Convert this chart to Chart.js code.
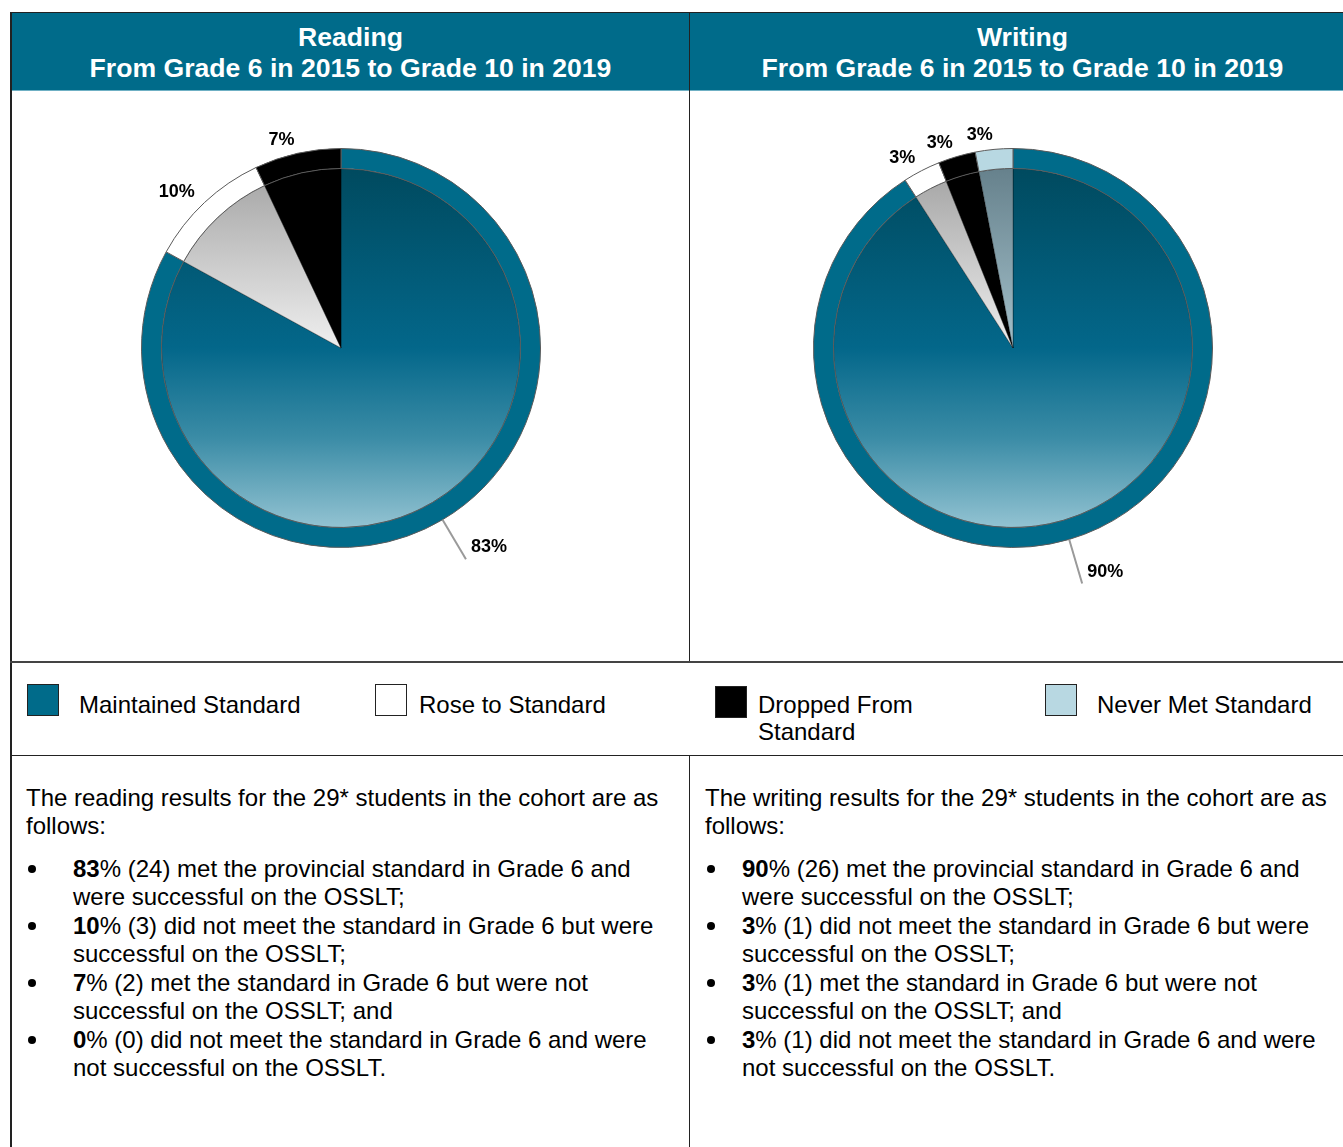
<!DOCTYPE html>
<html>
<head>
<meta charset="utf-8">
<script src="https://cdn.jsdelivr.net/npm/chart.js@4"></script>
<style>
  body { margin: 0; background: #fff; font-family: "Liberation Sans", Arial, sans-serif; color: #000; }
  #page { position: relative; width: 1343px; height: 1147px; overflow: hidden; }
  .line { position: absolute; background: #222; }
  .header { position: absolute; top: 13px; height: 78px; background: #006b8a; color: #fff;
            font-weight: bold; font-size: 26.6px; line-height: 31px; text-align: center;
            padding-top: 9px; box-sizing: border-box; border-bottom: 1px solid #6fb0c4; }
  canvas { position: absolute; }
  .swatch { position: absolute; width: 30px; height: 30px; border: 1.5px solid #222; }
  .legtext { position: absolute; font-size: 24px; line-height: 27px; }
  .para { position: absolute; font-size: 24px; line-height: 28px; }
  ul { position: absolute; margin: 0; padding: 0; list-style: none; font-size: 24px; line-height: 28px; }
  li { position: relative; margin-bottom: 1px; }
  li .dot { position: absolute; top: 10px; width: 8px; height: 8px; border-radius: 50%; background: #000; }
</style>
</head>
<body>
<div id="page"></div>
<script>
// categories and values
const categories = ['Maintained Standard', 'Rose to Standard', 'Dropped From Standard', 'Never Met Standard'];
const readingPercents = [83, 10, 7, 0];
const writingPercents = [90, 3, 3, 3];
const readingStudents = [24, 3, 2, 0];
const writingStudents = [26, 1, 1, 1];
const cohort = 29;
const subjects = ['Reading', 'Writing'];
const subtitle = 'From Grade 6 in 2015 to Grade 10 in 2019';
const outcomes = [
  'met the provincial standard in Grade 6 and were successful on the OSSLT;',
  'did not meet the standard in Grade 6 but were successful on the OSSLT;',
  'met the standard in Grade 6 but were not successful on the OSSLT; and',
  'did not meet the standard in Grade 6 and were not successful on the OSSLT.'
];

// colours
const ringColors = ['#006b8a', '#ffffff', '#000000', '#b8d8e2'];
const innerStops = [
  [[0, '#004a5f'], [0.5, '#03678a'], [0.75, '#3b8ca6'], [1, '#93c3d2']],
  [[0, '#a3a3a3'], [0.5, '#efefef'], [1, '#ffffff']],
  [[0, '#000000'], [1, '#000000']],
  [[0, '#66818c'], [0.5, '#a3c0ca'], [1, '#cfe5ec']]
];

const page = document.getElementById('page');
function add(tag, cls, css, html) {
  const el = document.createElement(tag);
  if (cls) el.className = cls;
  Object.assign(el.style, css);
  if (html !== undefined) el.innerHTML = html;
  page.appendChild(el);
  return el;
}

// frame lines
add('div', 'line', { left: '10px', top: '12px', width: '2px', height: '1135px' });
add('div', 'line', { left: '10px', top: '12px', width: '1333px', height: '1px' });
add('div', 'line', { left: '689px', top: '12px', width: '1px', height: '649px' });
add('div', 'line', { left: '10px', top: '661px', width: '1333px', height: '2px', background: '#444' });
add('div', 'line', { left: '10px', top: '755px', width: '1333px', height: '1px' });
add('div', 'line', { left: '689px', top: '755px', width: '1px', height: '392px' });

// headers
add('div', 'header', { left: '12px', width: '677px' }, subjects[0] + '<br>' + subtitle);
add('div', 'header', { left: '690px', width: '665px' }, subjects[1] + '<br>' + subtitle);

// legend (html, shared by both pies)
const legendPos = [[27, 79], [375, 419], [715, 758], [1045, 1097]];
categories.forEach((c, i) => {
  add('div', 'swatch', { left: legendPos[i][0] + 'px', top: (i === 2 ? 686 : 684) + 'px', background: ringColors[i] });
  const txt = i === 2 ? 'Dropped From<br>Standard' : c;
  add('div', 'legtext', { left: legendPos[i][1] + 'px', top: '691px' }, txt);
});

// text blocks
function textBlock(left, textLeft, dotLeft, subject, pcts, counts) {
  add('div', 'para', { left: left + 'px', top: '784px', width: '650px' },
    'The ' + subject.toLowerCase() + ' results for the ' + cohort + '* students in the cohort are as follows:');
  const ul = add('ul', null, { left: textLeft + 'px', top: '855px', width: '596px' });
  outcomes.forEach((o, i) => {
    const li = document.createElement('li');
    li.innerHTML = '<span class="dot" style="left:' + (dotLeft - textLeft) + 'px"></span><b>' +
      pcts[i] + '</b>% (' + counts[i] + ') ' + o;
    ul.appendChild(li);
  });
}
textBlock(26, 73, 28, subjects[0], readingPercents, readingStudents);
textBlock(705, 742, 707, subjects[1], writingPercents, writingStudents);

// percentage labels around the pie
const pctLabels = {
  id: 'pctLabels',
  afterDatasetsDraw(chart) {
    const ctx = chart.ctx;
    const vals = chart.data.datasets[0].data;
    const meta = chart.getDatasetMeta(0);
    ctx.save();
    ctx.font = 'bold 18px "Liberation Sans", Arial, sans-serif';
    ctx.fillStyle = '#000';
    meta.data.forEach((arc, i) => {
      if (!vals[i]) return;
      const p = arc.getProps(['x', 'y', 'startAngle', 'endAngle', 'outerRadius'], true);
      const mid = (p.startAngle + p.endAngle) / 2;
      const cos = Math.cos(mid), sin = Math.sin(mid);
      const label = vals[i] + '%';
      if (cos > 0) {
        const x1 = p.x + cos * p.outerRadius, y1 = p.y + sin * p.outerRadius;
        const x2 = p.x + cos * (p.outerRadius + 46), y2 = p.y + sin * (p.outerRadius + 46);
        ctx.strokeStyle = '#9a9a9a';
        ctx.lineWidth = 2;
        ctx.beginPath(); ctx.moveTo(x1, y1); ctx.lineTo(x2, y2); ctx.stroke();
        ctx.textAlign = 'left';
        ctx.textBaseline = 'middle';
        ctx.fillText(label, x2 + 5, y2 - 12);
      } else {
        const r = p.outerRadius + 14;
        ctx.textAlign = 'right';
        ctx.textBaseline = 'middle';
        ctx.fillText(label, p.x + cos * r, p.y + sin * r);
      }
    });
    ctx.restore();
  }
};

function innerFill(c) {
  const area = c.chart.chartArea;
  if (!area) return ringColors[c.dataIndex];
  const g = c.chart.ctx.createLinearGradient(0, area.top + 20, 0, area.bottom - 20);
  innerStops[c.dataIndex].forEach(s => g.addColorStop(s[0], s[1]));
  return g;
}

function makePie(cx, cy, pcts) {
  const cv = add('canvas', null, { left: (cx - 250) + 'px', top: (cy - 250) + 'px' });
  cv.width = 500; cv.height = 500;
  return new Chart(cv.getContext('2d'), {
    type: 'pie',
    data: {
      labels: categories,
      datasets: [
        { data: pcts, backgroundColor: ringColors, borderColor: '#5a5a5a', borderWidth: 1, weight: 1 },
        { data: pcts, backgroundColor: innerFill, borderColor: 'rgba(0,0,0,0.3)', borderWidth: 1, weight: 9 }
      ]
    },
    options: {
      responsive: false,
      animation: false,
      layout: { padding: 50 },
      plugins: { legend: { display: false }, tooltip: { enabled: false } }
    },
    plugins: [pctLabels]
  });
}

makePie(341, 348, readingPercents);
makePie(1013, 348, writingPercents);
</script>
</body>
</html>
